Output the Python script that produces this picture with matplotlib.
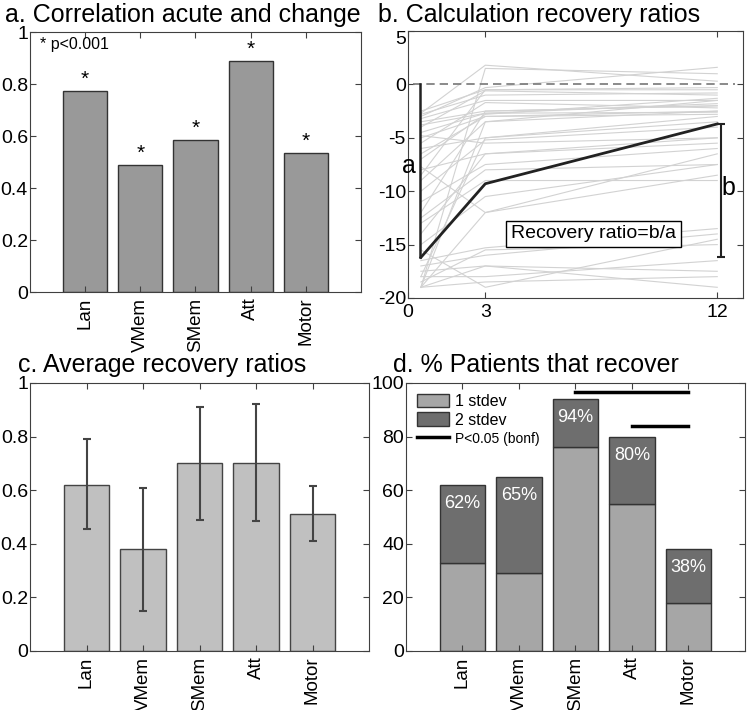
import matplotlib.pyplot as plt
import matplotlib.transforms as mtransforms
import numpy as np

plt.rcParams['font.family'] = ['Liberation Sans', 'DejaVu Sans']
plt.rcParams['axes.unicode_minus'] = False

domains = ['Lan', 'VMem', 'SMem', 'Att', 'Motor']

# a. correlation acute and change
corr = [0.775, 0.49, 0.585, 0.89, 0.535]

# b. individual recovery curves (acute, 3 months, 12 months)
months = [0.5, 3, 12]
patients = [
    (-2.5, -0.5, -0.5), (-2.7, 1.8, 0.3), (-3.0, -0.3, 1.6), (-3.2, -1.5, -1.5),
    (-3.5, -2.5, -2.0), (-4.0, -0.6, -1.0), (-4.5, -2.7, -1.8), (-5.0, -3.0, -2.5),
    (-5.5, -1.7, -2.2), (-6.0, -5.0, -3.0), (-7.0, -2.8, -1.3), (-7.7, -12.0, -8.5),
    (-8.0, -6.5, -5.5), (-8.5, -0.5, -0.3), (-9.0, -3.5, -1.5), (-10.0, -5.2, -4.0),
    (-11.0, -7.5, -6.0), (-12.0, -2.5, -2.0), (-13.0, -9.0, -9.0), (-14.0, -6.5, -5.0),
    (-15.0, -10.5, -7.5), (-15.5, -19.0, -14.5), (-16.5, -15.3, -13.5), (-17.0, -16.0, -14.0),
    (-17.5, -17.0, -17.5), (-18.0, -18.0, -16.5), (-18.5, -15.5, -15.0), (-19.0, -12.0, -6.5),
    (-19.0, -3.5, -2.5), (-19.0, 1.5, 1.0), (-19.0, -18.5, -18.0), (-19.0, -17.0, -19.0),
    (-18.0, -5.0, -3.5), (-6.5, -3.0, -2.8), (-3.8, -2.7, -2.6), (-2.8, -1.0, -0.8),
    (-4.8, -5.5, -5.0), (-12.5, -8.0, -7.5),
]
example = [-16.2, -9.3, -3.7]

# c. average recovery ratios
ratio = [0.62, 0.38, 0.70, 0.70, 0.51]
ratio_lo = [0.455, 0.15, 0.49, 0.485, 0.41]
ratio_hi = [0.79, 0.61, 0.91, 0.92, 0.615]

# d. % patients that recover
one_sd = [33, 29, 76, 55, 18]
total = [62, 65, 94, 80, 38]

fig = plt.figure(figsize=(7.5, 7.1), dpi=100)
axa = fig.add_axes([0.04, 0.5887, 0.4413, 0.3662])
axb = fig.add_axes([0.544, 0.5803, 0.4467, 0.376])
axc = fig.add_axes([0.04, 0.0831, 0.452, 0.3775])
axd = fig.add_axes([0.5413, 0.0831, 0.452, 0.3775])

spine = '#404040'
for ax in (axa, axb, axc, axd):
    for s in ax.spines.values():
        s.set_color(spine)
    ax.tick_params(direction='in', top=True, right=True, length=4,
                   color=spine, labelsize=14)
    ax.tick_params(axis='y', pad=1.5)
    ax.tick_params(axis='x', pad=4)

x = np.arange(1, 6)


def cat_axis(ax):
    ax.set_xlim(0, 6)
    ax.set_xticks(x)
    ax.set_xticklabels(domains, rotation=90, fontsize=13.5)


# a
axa.bar(x, corr, width=0.8, color='#999999', edgecolor='#333333', lw=1)
for xi, v in zip(x, corr):
    axa.text(xi, v + 0.022, '*', ha='center', va='baseline', fontsize=15)
axa.text(0.18, 0.935, '* p<0.001', fontsize=11.5, va='baseline')
axa.set_ylim(0, 1)
axa.set_yticks([0, 0.2, 0.4, 0.6, 0.8, 1])
axa.set_yticklabels(['0', '0.2', '0.4', '0.6', '0.8', '1'])
cat_axis(axa)

# b
for p in patients:
    axb.plot(months, p, color='#d2d2d2', lw=0.8)
axb.plot([0.2, 12.7], [0, 0], '--', color='#777777', lw=1.2, dashes=(5, 3))
axb.plot(months, example, color='#222222', lw=2)
axb.plot([0.45, 0.45], [0, example[0]], color='#222222', lw=1.8)
axb.errorbar([12.15], [(example[0] + example[2]) / 2],
             yerr=[[(example[2] - example[0]) / 2], [(example[2] - example[0]) / 2]],
             color='#222222', lw=1.5, capsize=3, capthick=1.5)
axb.text(0.05, -7.6, 'a', fontsize=18, ha='center', va='center')
axb.text(12.45, -9.7, 'b', fontsize=18, ha='center', va='center')
axb.text(7.2, -14.0, 'Recovery ratio=b/a', fontsize=14, ha='center', va='center',
         bbox=dict(boxstyle='square,pad=0.25', fc='white', ec='black', lw=1))
axb.set_xlim(0, 13)
axb.set_ylim(-20, 5)
axb.set_xticks([0, 3, 12])
axb.set_yticks([-20, -15, -10, -5, 0, 5])
# top label sits a little lower, clear of the title
top_lab = axb.get_yticklabels()[-1]
top_lab.set_transform(top_lab.get_transform() +
                      mtransforms.ScaledTranslation(0, -5 / 72, fig.dpi_scale_trans))

# c
axc.bar(x, ratio, width=0.8, color='#c0c0c0', edgecolor='#444444', lw=1)
yerr = [np.array(ratio) - np.array(ratio_lo), np.array(ratio_hi) - np.array(ratio)]
axc.errorbar(x, ratio, yerr=yerr, fmt='none', ecolor='#444444', elinewidth=1.5,
             capsize=3, capthick=1.5)
axc.set_ylim(0, 1)
axc.set_yticks([0, 0.2, 0.4, 0.6, 0.8, 1])
axc.set_yticklabels(['0', '0.2', '0.4', '0.6', '0.8', '1'])
cat_axis(axc)

# d
two_sd = np.array(total) - np.array(one_sd)
b1 = axd.bar(x, one_sd, width=0.8, color='#a6a6a6', edgecolor='#333333', lw=1)
b2 = axd.bar(x, two_sd, bottom=one_sd, width=0.8, color='#6e6e6e', edgecolor='#333333', lw=1)
for xi, t in zip(x, total):
    axd.text(xi, t - 7, f'{t}%', color='white', fontsize=13, ha='center', va='center')
sig, = axd.plot([3, 5], [96.5, 96.5], color='black', lw=2.5, clip_on=False)
axd.plot([4, 5], [84, 84], color='black', lw=2.5)
axd.set_ylim(0, 100)
axd.set_yticks([0, 20, 40, 60, 80, 100])
cat_axis(axd)
leg = axd.legend([b1, b2, sig], ['1 stdev', '2 stdev', 'P<0.05 (bonf)'],
                 loc='upper left', frameon=False, fontsize=11.5, handlelength=2,
                 handleheight=0.9, labelspacing=0.2, borderaxespad=0.3, handletextpad=0.4)
leg.get_texts()[2].set_fontsize(10)

# panel titles
fig.text(5 / 750, 1 - 22 / 710, 'a. Correlation acute and change', fontsize=18, va='baseline')
fig.text(378 / 750, 1 - 22 / 710, 'b. Calculation recovery ratios', fontsize=18, va='baseline')
fig.text(18 / 750, 1 - 372 / 710, 'c. Average recovery ratios', fontsize=18, va='baseline')
fig.text(393 / 750, 1 - 372 / 710, 'd. % Patients that recover', fontsize=18, va='baseline')

plt.savefig('out.png')
